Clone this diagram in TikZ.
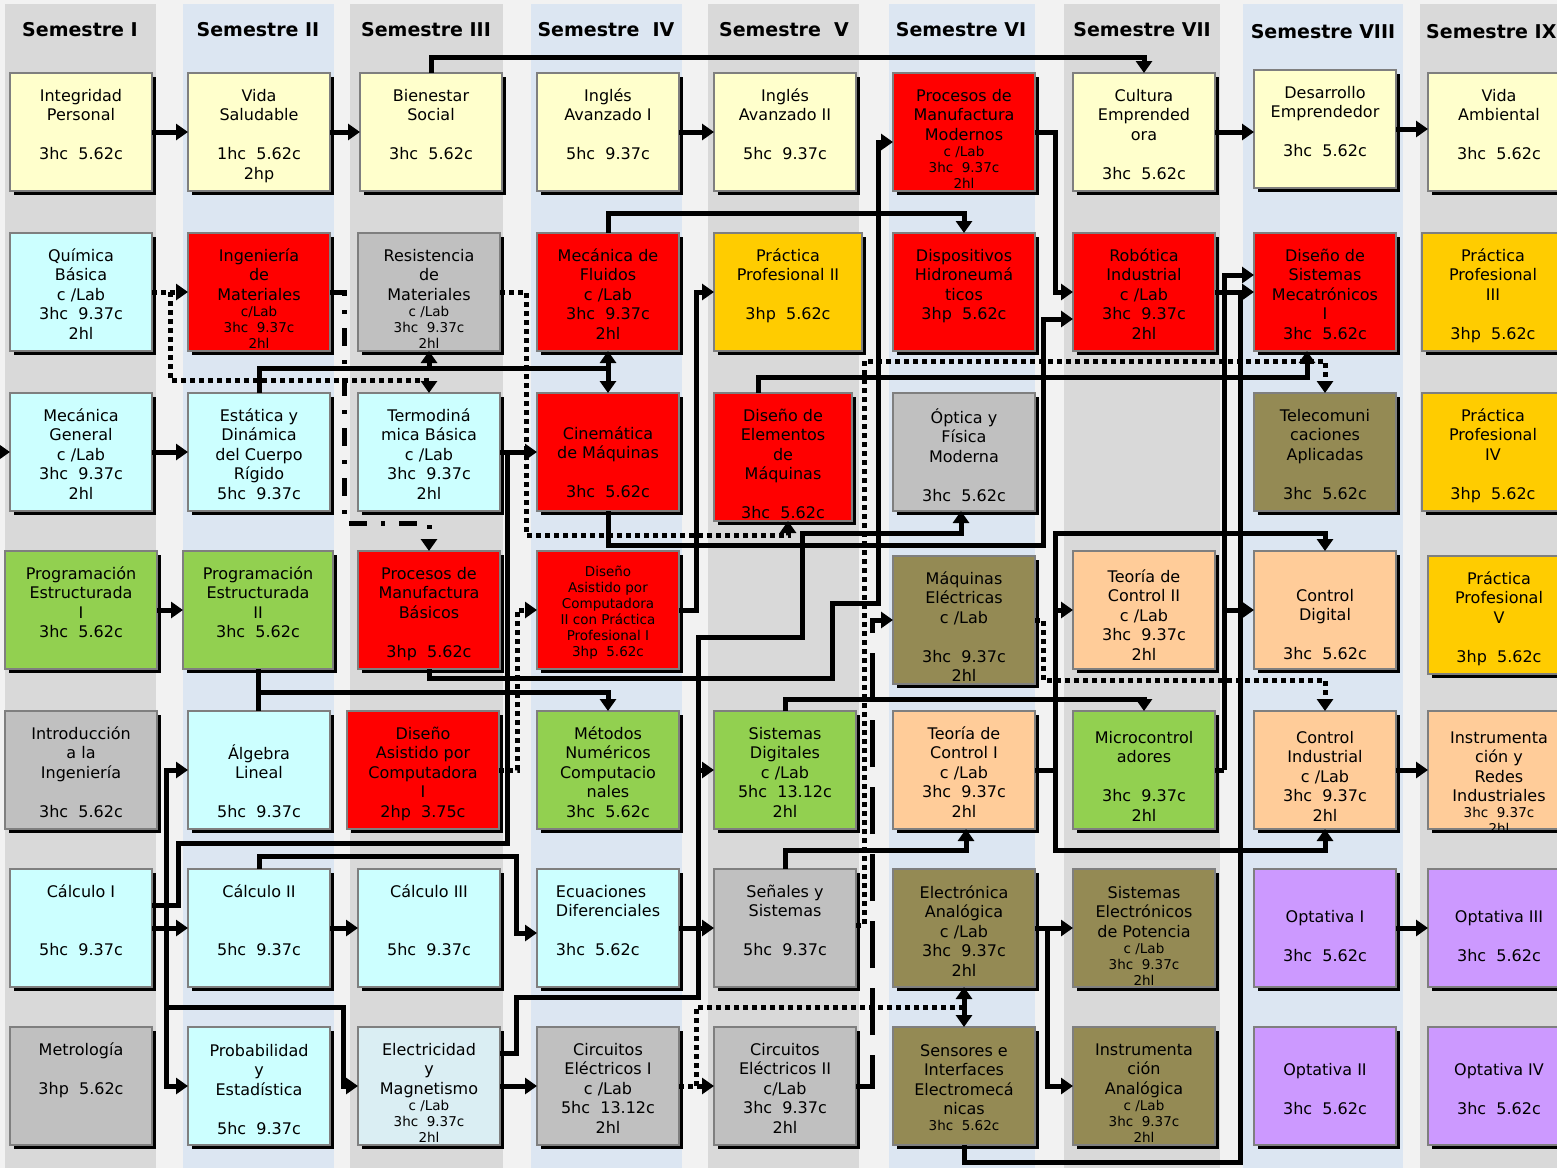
\documentclass[tikz,border=0pt]{standalone}
\usepackage{fontspec}
\setmainfont{DejaVu Sans}
\usetikzlibrary{arrows.meta,calc}

\definecolor{pagebg}{HTML}{F2F2F2}
\definecolor{stripgrey}{HTML}{D9D9D9}
\definecolor{stripblue}{HTML}{DCE6F2}
\definecolor{cyel}{HTML}{FFFFCC}
\definecolor{ccyan}{HTML}{CCFFFF}
\definecolor{cred}{HTML}{FF0000}
\definecolor{cgrey}{HTML}{C0C0C0}
\definecolor{cgold}{HTML}{FFCC00}
\definecolor{cgreen}{HTML}{92D050}
\definecolor{colive}{HTML}{948A54}
\definecolor{cpeach}{HTML}{FFCC99}
\definecolor{cpurple}{HTML}{CC99FF}
\definecolor{clblue}{HTML}{DAEEF3}
\definecolor{cborder}{HTML}{7F7F7F}

\newcommand{\smt}[1]{{\fontsize{13.5}{16}\selectfont #1}}

\tikzset{
  cbox/.style={rectangle, draw=cborder, line width=1.5pt, inner sep=0pt, outer sep=0pt},
  ctext/.style={font=\fontsize{16}{19.5}\selectfont, align=center, inner sep=0pt, text=black},
  hdr/.style={font=\bfseries\fontsize{19}{22}\selectfont, inner sep=0pt},
  conn/.style={line width=5pt},
  arr/.style={conn, -{Triangle[length=12pt,width=16pt]}},
  dconn/.style={line width=5pt, dash pattern=on 5pt off 4pt},
  darr/.style={dconn, -{Triangle[length=12pt,width=16pt]}},
  ddconn/.style={line width=5pt, dash pattern=on 18pt off 14pt on 4pt off 14pt},
  ddarr/.style={ddconn, -{Triangle[length=12pt,width=16pt]}},
  ldconn/.style={line width=5pt, dash pattern=on 47pt off 20pt},
  ldarr/.style={ldconn, -{Triangle[length=12pt,width=16pt]}},
}

% #1 text opts, #2 name, #3 x, #4 y, #5 w, #6 h, #7 fill, #8 text
\newcommand{\course}[8][]{%
  \fill[black] ({#3+4},{#4+4}) rectangle ++(#5,#6);
  \node[cbox, fill=#7, minimum width=#5, minimum height=#6, anchor=north west] (#2) at (#3,#4) {};
  \node[ctext, anchor=north, #1] (#2-t) at ($(#2.north)+(0,15)$) {\rule{0pt}{13pt}#8};
}

\begin{document}
\begin{tikzpicture}[x=1pt,y=-1pt]
\useasboundingbox (0,0) rectangle (1557,1168);
\clip (0,0) rectangle (1557,1168);
\fill[pagebg] (0,0) rectangle (1557,1168);
% column strips
\fill[stripgrey] (5,4) rectangle (156,1168);
\fill[stripblue] (183,4) rectangle (334,1168);
\fill[stripgrey] (350,4) rectangle (503,1168);
\fill[stripblue] (531,4) rectangle (682,1168);
\fill[stripgrey] (708,4) rectangle (859,1168);
\fill[stripblue] (889,4) rectangle (1035,1168);
\fill[stripgrey] (1064,4) rectangle (1220,1168);
\fill[stripblue] (1243,4) rectangle (1403,1168);
\fill[stripgrey] (1420,4) rectangle (1571,1168);

% headers
\node[hdr] (h1) at (80,30) {Semestre I};
\node[hdr] (h2) at (258,30) {Semestre II};
\node[hdr] (h3) at (426,30) {Semestre III};
\node[hdr] (h4) at (606,30) {Semestre~~IV};
\node[hdr] (h5) at (784,30) {Semestre~~V};
\node[hdr] (h6) at (961,30) {Semestre VI};
\node[hdr] (h7) at (1142,30) {Semestre VII};
\node[hdr] (h8) at (1323,32) {Semestre VIII};
\node[hdr, anchor=west] (h9) at (1426,32) {Semestre IX};

% row 1
\course{intper}{10}{73}{142}{118}{cyel}{Integridad\\Personal\\[19.5pt]3hc~~5.62c}
\course{vidasal}{188}{73}{142}{118}{cyel}{Vida\\Saludable\\[19.5pt]1hc~~5.62c\\2hp}
\course{bienestar}{360}{73}{142}{118}{cyel}{Bienestar\\Social\\[19.5pt]3hc~~5.62c}
\course{ingles1}{537}{73}{142}{118}{cyel}{Inglés\\Avanzado I\\[19.5pt]5hc~~9.37c}
\course{ingles2}{714}{73}{142}{118}{cyel}{Inglés\\Avanzado II\\[19.5pt]5hc~~9.37c}
\course{procmod}{893}{73}{142}{118}{cred}{Procesos de\\Manufactura\\Modernos\\[-3.5pt]\smt{c /Lab}\\[-3.5pt]\smt{3hc~~9.37c}\\[-3.5pt]\smt{2hl}}
\course{cultura}{1073}{73}{142}{118}{cyel}{Cultura\\Emprended\\ora\\[19.5pt]3hc~~5.62c}
\course{desemp}{1254}{70}{142}{118}{cyel}{Desarrollo\\Emprendedor\\[19.5pt]3hc~~5.62c}
\course{vidamb}{1428}{73}{142}{118}{cyel}{Vida\\Ambiental\\[19.5pt]3hc~~5.62c}

% row 2
\course{quim}{10}{233}{142}{118}{ccyan}{Química\\Básica\\c /Lab\\3hc~~9.37c\\2hl}
\course{ingmat}{188}{233}{142}{118}{cred}{Ingeniería\\de\\Materiales\\[-3.5pt]\smt{c/Lab}\\[-3.5pt]\smt{3hc~~9.37c}\\[-3.5pt]\smt{2hl}}
\course{resmat}{358}{233}{142}{118}{cgrey}{Resistencia\\de\\Materiales\\[-3.5pt]\smt{c /Lab}\\[-3.5pt]\smt{3hc~~9.37c}\\[-3.5pt]\smt{2hl}}
\course{mecflu}{537}{233}{142}{118}{cred}{Mecánica de\\Fluidos\\c /Lab\\3hc~~9.37c\\2hl}
\course{prac2}{714}{233}{148}{118}{cgold}{Práctica\\Profesional II\\[19.5pt]3hp~~5.62c}
\course{dispo}{893}{233}{142}{118}{cred}{Dispositivos\\Hidroneumá\\ticos\\3hp~~5.62c}
\course{robot}{1073}{233}{142}{118}{cred}{Robótica\\Industrial\\c /Lab\\3hc~~9.37c\\2hl}
\course{dismec}{1254}{233}{142}{118}{cred}{Diseño de\\Sistemas\\Mecatrónicos\\I\\3hc~~5.62c}
\course{prac3}{1422}{233}{142}{118}{cgold}{Práctica\\Profesional\\III\\[19.5pt]3hp~~5.62c}

% row 3
\course{mecgen}{10}{393}{142}{118}{ccyan}{Mecánica\\General\\c /Lab\\3hc~~9.37c\\2hl}
\course{estat}{188}{393}{142}{118}{ccyan}{Estática y\\Dinámica\\del Cuerpo\\Rígido\\5hc~~9.37c}
\course{termo}{358}{393}{142}{118}{ccyan}{Termodiná\\mica Básica\\c /Lab\\3hc~~9.37c\\2hl}
\course[yshift=-18pt]{cinem}{537}{393}{142}{118}{cred}{Cinemática\\de Máquinas\\[19.5pt]3hc~~5.62c}
\course{diselem}{714}{393}{138}{128}{cred}{Diseño de\\Elementos\\de\\Máquinas\\[19.5pt]3hc~~5.62c}
\course{optica}{893}{393}{142}{118}{cgrey}{Óptica y\\Física\\Moderna\\[19.5pt]3hc~~5.62c}
\course{telecom}{1254}{393}{142}{118}{colive}{Telecomuni\\caciones\\Aplicadas\\[19.5pt]3hc~~5.62c}
\course{prac4}{1422}{393}{142}{118}{cgold}{Práctica\\Profesional\\IV\\[19.5pt]3hp~~5.62c}

% row 4
\course{prog1}{5}{551}{152}{118}{cgreen}{Programación\\Estructurada\\I\\3hc~~5.62c}
\course{prog2}{183}{551}{150}{118}{cgreen}{Programación\\Estructurada\\II\\3hc~~5.62c}
\course{procbas}{358}{551}{142}{118}{cred}{Procesos de\\Manufactura\\Básicos\\[19.5pt]3hp~~5.62c}
\course[yshift=2.5pt]{cad2}{537}{551}{142}{118}{cred}{\smt{Diseño}\\[-3.5pt]\smt{Asistido por}\\[-3.5pt]\smt{Computadora}\\[-3.5pt]\smt{II con Práctica}\\[-3.5pt]\smt{Profesional I}\\[-3.5pt]\smt{3hp~~5.62c}}
\course{maqel}{893}{556}{142}{128}{colive}{Máquinas\\Eléctricas\\c /Lab\\[19.5pt]3hc~~9.37c\\2hl}
\course[yshift=-3pt]{tc2}{1073}{551}{142}{118}{cpeach}{Teoría de\\Control II\\c /Lab\\3hc~~9.37c\\2hl}
\course[yshift=-22pt]{ctrldig}{1254}{551}{142}{118}{cpeach}{Control\\Digital\\[19.5pt]3hc~~5.62c}
\course{prac5}{1428}{556}{142}{118}{cgold}{Práctica\\Profesional\\V\\[19.5pt]3hp~~5.62c}

% row 5
\course{intro}{5}{711}{152}{118}{cgrey}{Introducción\\a la\\Ingeniería\\[19.5pt]3hc~~5.62c}
\course[yshift=-18pt]{alg}{188}{711}{142}{118}{ccyan}{Álgebra\\Lineal\\[19.5pt]5hc~~9.37c}
\course{cad1}{347}{711}{152}{118}{cred}{Diseño\\Asistido por\\Computadora\\I\\2hp~~3.75c}
\course{metnum}{537}{711}{142}{118}{cgreen}{Métodos\\Numéricos\\Computacio\\nales\\3hc~~5.62c}
\course{sisdig}{714}{711}{142}{118}{cgreen}{Sistemas\\Digitales\\c /Lab\\5hc~~13.12c\\2hl}
\course{tc1}{893}{711}{142}{118}{cpeach}{Teoría de\\Control I\\c /Lab\\3hc~~9.37c\\2hl}
\course[yshift=-4pt]{micro}{1073}{711}{142}{118}{cgreen}{Microcontrol\\adores\\[19.5pt]3hc~~9.37c\\2hl}
\course[yshift=-4pt]{ctrlind}{1254}{711}{142}{118}{cpeach}{Control\\Industrial\\c /Lab\\3hc~~9.37c\\2hl}
\course[yshift=-4pt]{instred}{1428}{711}{142}{118}{cpeach}{Instrumenta\\ción y\\Redes\\Industriales\\[-3.5pt]\smt{3hc~~9.37c}\\[-3.5pt]\smt{2hl}}

% row 6
\course{calc1}{10}{869}{142}{118}{ccyan}{Cálculo I\\[39pt]5hc~~9.37c}
\course{calc2}{188}{869}{142}{118}{ccyan}{Cálculo II\\[39pt]5hc~~9.37c}
\course{calc3}{358}{869}{142}{118}{ccyan}{Cálculo III\\[39pt]5hc~~9.37c}
\course[align=left]{ecdif}{537}{869}{142}{118}{ccyan}{Ecuaciones\\Diferenciales\\[19.5pt]3hc~~5.62c}
\course{senales}{714}{869}{142}{118}{cgrey}{Señales y\\Sistemas\\[19.5pt]5hc~~9.37c}
\course[yshift=-1pt]{elecan}{893}{869}{142}{118}{colive}{Electrónica\\Analógica\\c /Lab\\3hc~~9.37c\\2hl}
\course[yshift=-1pt]{sispot}{1073}{869}{142}{118}{colive}{Sistemas\\Electrónicos\\de Potencia\\[-3.5pt]\smt{c /Lab}\\[-3.5pt]\smt{3hc~~9.37c}\\[-3.5pt]\smt{2hl}}
\course[yshift=-25pt]{opt1}{1254}{869}{142}{118}{cpurple}{Optativa I\\[19.5pt]3hc~~5.62c}
\course[yshift=-25pt]{opt3}{1428}{869}{142}{118}{cpurple}{Optativa III\\[19.5pt]3hc~~5.62c}

% row 7
\course{metro}{10}{1027}{142}{118}{cgrey}{Metrología\\[19.5pt]3hp~~5.62c}
\course[yshift=-1pt]{prob}{188}{1027}{142}{118}{ccyan}{Probabilidad\\y\\Estadística\\[19.5pt]5hc~~9.37c}
\course{elec}{358}{1027}{142}{118}{clblue}{Electricidad\\y\\Magnetismo\\[-3.5pt]\smt{c /Lab}\\[-3.5pt]\smt{3hc~~9.37c}\\[-3.5pt]\smt{2hl}}
\course{circ1}{537}{1027}{142}{118}{cgrey}{Circuitos\\Eléctricos I\\c /Lab\\5hc~~13.12c\\2hl}
\course{circ2}{714}{1027}{142}{118}{cgrey}{Circuitos\\Eléctricos II\\c/Lab\\3hc~~9.37c\\2hl}
\course[yshift=-1pt]{sensores}{893}{1027}{142}{118}{colive}{Sensores e\\Interfaces\\Electromecá\\nicas\\[-3.5pt]\smt{3hc~~5.62c}}
\course{instan}{1073}{1027}{142}{118}{colive}{Instrumenta\\ción\\Analógica\\[-3.5pt]\smt{c /Lab}\\[-3.5pt]\smt{3hc~~9.37c}\\[-3.5pt]\smt{2hl}}
\course[yshift=-20pt]{opt2}{1254}{1027}{142}{118}{cpurple}{Optativa II\\[19.5pt]3hc~~5.62c}
\course[yshift=-20pt]{opt4}{1428}{1027}{142}{118}{cpurple}{Optativa IV\\[19.5pt]3hc~~5.62c}

% ---------------- connectors ----------------
\draw[arr] (intper.east) -- (vidasal.west);
\draw[arr] (vidasal.east) -- (bienestar.west);
\draw[arr] (ingles1.east) -- (ingles2.west);
\draw[arr] (cultura.east) -- (desemp.west |- cultura.east);
\draw[arr] (desemp.east) -- (vidamb.west |- desemp.east);
\draw[arr] (bienestar.north) -- ++(0,-16) -| (cultura.north);

\coordinate (lftin) at (-8,452);
\draw[arr] (lftin) -- (mecgen.west);
\draw[arr] (mecgen.east) -- (estat.west);
\draw[arr] (prog1.east) -- (prog2.west);
\draw[arr] (calc1.east) -- (calc2.west);
\draw[arr] (calc2.east) -- (calc3.west);
\draw[arr] (ecdif.east) -- (senales.west);
\draw[arr] (ctrlind.east) -- (instred.west);
\draw[arr] (opt1.east) -- (opt3.west);
\draw[arr] (elec.east) -- (circ1.west);
\draw[arr] (elecan.east) -- (sispot.west);
\draw[arr] ($(elecan.east)+(12,0)$) |- (instan.west);

% Quimica (dotted)
\draw[darr] (quim.east) -- (ingmat.west);
\draw[darr] ($(quim.east)+(18,0)$) -- ++(0,88) -| (termo.north);

% Ingenieria de Materiales (dash dot)
\draw[ddarr] (ingmat.east) -- ++(14,0) -- ++(0,231) -| (procbas.north);

% Estatica
\coordinate (ej) at ($(estat.north)+(0,-25)$);
\draw[conn] (estat.north) -- (ej) -- (ej -| mecflu.south);
\draw[arr] (ej -| resmat.south) -- (resmat.south);
\draw[arr] (ej -| mecflu.south) -- (mecflu.south);
\draw[arr] (ej -| cinem.north) -- (cinem.north);

% Resistencia -> Diseno de Elementos (dotted)
\draw[darr] (resmat.east) -- ++(26,0) |- ($(diselem.south)+(5,14)$) -- ($(diselem.south)+(5,0)$);

% Mecanica de Fluidos -> Dispositivos
\draw[arr] (mecflu.north) -- ++(0,-20) -| (dispo.north);

% Termodinamica / Calculo I -> Cinematica
\draw[conn] (termo.east) -- ++(9,0);
\draw[arr] ($(calc1.east)+(0,-23)$) -- ++(26,0) |- ($(termo.east)+(7,391)$) |- (cinem.west);

% Calculo I trunk
\coordinate (ctr) at ($(calc1.east)+(14,0)$);
\draw[arr] (ctr) |- (alg.west);
\draw[arr] (ctr) |- (prob.west);
\draw[arr] ($(ctr)+(0,79)$) -- ++(177,0) |- (elec.west);

% Calculo II -> Ecuaciones
\draw[arr] (calc2.north) -- ++(0,-13) -| ($(ecdif.west)+(-21,5)$) -- ($(ecdif.west)+(0,5)$);

% Programacion II -> Metodos
\draw[conn] (prog2.south) -- (prog2.south |- alg.north);
\draw[arr] ($(prog2.south)+(0,23)$) -| (metnum.north);

% CAD I -> CAD II (dotted)
\draw[darr] (cad1.east) -- ++(18,0) |- (cad2.west);

% CAD II -> Practica II
\draw[arr] (cad2.east) -- ++(17,0) |- (prac2.west);

% Cinematica -> Robotica
\draw[arr] (cinem.south) -- ++(0,34) -| ($(robot.west)+(-30,27)$) -- ($(robot.west)+(0,27)$);

% Procesos Basicos -> Procesos Modernos
\draw[arr] (procbas.south) -- ++(0,9) -- ++(403,0) -- ++(0,-75) -- ++(46,0) |- ($(procmod.west)+(0,10)$);

% Procesos Modernos -> Robotica
\draw[arr] (procmod.east) -- ++(20,0) |- (robot.west);

% Diseno de Elementos -> Diseno Mecatronicos
\draw[arr] ($(diselem.north)+(-25,0)$) -- ++(0,-16) -| ($(dismec.south)+(-18,0)$);

% Senales -> Telecomunicaciones (dotted)
\draw[darr] ($(senales.east)+(0,-3)$) -- ++(8,0) |- ($(telecom.north)+(0,-32)$) -- (telecom.north);

% Senales -> Teoria de Control I
\draw[arr] (senales.north) -- ++(0,-19) -| ($(tc1.south)+(2,0)$);

% Electricidad -> Optica, Sistemas Digitales
\draw[arr] ($(elec.east)+(0,-33)$) -- ++(16,0) -- ++(0,-56) -- ++(182,0) -- ++(0,-360) -- ++(104,0) -- ++(0,-104) -| ($(optica.south)+(-3,0)$);
\draw[arr] ($(sisdig.west)+(-16,0)$) -- (sisdig.west);

% Sistemas Digitales -> Microcontroladores
\draw[arr] (sisdig.north) -- ++(0,-12) -| (micro.north);

% Circuitos I (dotted)
\draw[darr] (circ1.east) -- (circ2.west);
\draw[dconn] ($(circ1.east)+(17,0)$) |- ($(elecan.south)+(0,20)$);
\draw[arr] ($(elecan.south)+(0,20)$) -- (elecan.south);
\draw[arr] ($(elecan.south)+(0,20)$) -- (sensores.north);

% Circuitos II -> Maquinas Electricas (long dash)
\draw[ldarr] (circ2.east) -- ++(16,0) |- (maqel.west);

% Maquinas Electricas -> Control Industrial (dotted)
\draw[darr] (maqel.east) -- ++(8,0) |- ($(ctrlind.north)+(0,-31)$) -- (ctrlind.north);

% Teoria de Control I
\coordinate (tcj) at ($(tc1.east)+(20,0)$);
\draw[conn] (tc1.east) -- (tcj);
\draw[arr] (tcj) |- ($(ctrldig.north)+(0,-18)$) -- (ctrldig.north);
\draw[arr] (tcj) |- ($(ctrlind.south)+(0,21)$) -- (ctrlind.south);
\draw[arr] (tcj) |- (tc2.west);

% Microcontroladores
\coordinate (mj) at ($(micro.east)+(9,0)$);
\draw[conn] (micro.east) -- (mj);
\draw[arr] (mj) |- ($(dismec.west)+(0,-17)$);
\draw[arr] (mj) |- (ctrldig.west);

% Sensores / Robotica -> Diseno Mecatronicos
\draw[conn] (sensores.south) -- ++(0,17) -| ($(robot.east)+(25,0)$);
\draw[arr] (robot.east) -- (dismec.west);
\end{tikzpicture}
\end{document}
